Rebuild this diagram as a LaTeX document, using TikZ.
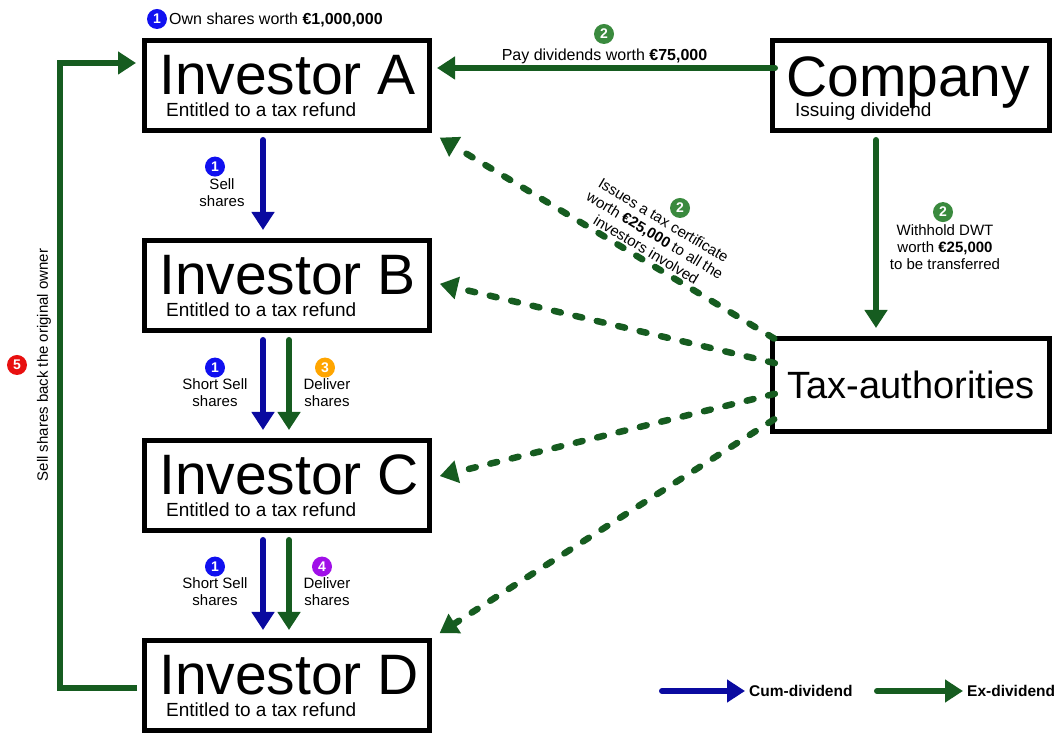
\documentclass[tikz,border=0pt]{standalone}
\usepackage{fontspec}
\setmainfont{Liberation Sans}
\usepackage{xcolor}
\usepackage{tikz}
\usetikzlibrary{positioning, arrows.meta, calc}
\definecolor{cumblue}{HTML}{0A0AA0}
\definecolor{exgreen}{HTML}{165C20}
\definecolor{bdgblue}{HTML}{1010F0}
\definecolor{bdggreen}{HTML}{3A8A3E}
\definecolor{bdgorange}{HTML}{FFA500}
\definecolor{bdgpurple}{HTML}{A010E8}
\definecolor{bdgred}{HTML}{E81010}

\begin{document}
\begin{tikzpicture}[
  x=1pt, y=1pt,
  party/.style={
    rectangle, draw=black, line width=5pt, fill=white,
    minimum width=285pt, minimum height=90pt, inner sep=0pt
  },
  bigname/.style={font=\fontsize{57}{60}\selectfont, inner sep=0pt, anchor=base west},
  subname/.style={font=\fontsize{19}{22}\selectfont, inner sep=0pt, anchor=base west},
  lbl/.style={font=\fontsize{15}{17}\selectfont, align=center, inner sep=0pt},
  toplbl/.style={font=\fontsize{16}{18}\selectfont, align=center, inner sep=0pt},
  badge/.style={
    circle, fill=#1, text=white, inner sep=0pt, minimum size=20pt,
    font=\fontsize{14}{14}\selectfont\bfseries
  },
  badge/.default=bdgblue,
  legend/.style={font=\fontsize{15.5}{17}\selectfont\bfseries, inner sep=0pt, anchor=west},
  cumarrow/.style={-{Triangle[length=18pt, width=22pt]}, line width=6pt, draw=cumblue, line cap=round},
  exarrow/.style={-{Triangle[length=18pt, width=22pt]}, line width=6pt, draw=exgreen, line cap=round},
  certarrow/.style={exarrow, line width=6.5pt, dash pattern=on 7pt off 15pt},
]
\useasboundingbox (0,0) rectangle (1057,733);

% --- Investors ---
\node[party] (invA) at (287,647.5) {};
\node[party, below=105pt of invA] (invB) {};
\node[party, below=105pt of invB] (invC) {};
\node[party, below=105pt of invC] (invD) {};

\node[bigname] (invAname) at (159,638) {Investor A};
\node[subname] (invAsub) at (166,616) {Entitled to a tax refund};
\node[bigname] (invBname) at (159,438) {Investor B};
\node[subname] (invBsub) at (166,416) {Entitled to a tax refund};
\node[bigname] (invCname) at (159,238) {Investor C};
\node[subname] (invCsub) at (166,216) {Entitled to a tax refund};
\node[bigname] (invDname) at (159,38) {Investor D};
\node[subname] (invDsub) at (166,16) {Entitled to a tax refund};

% --- Company and authorities ---
\node[party, minimum width=277pt] (company) at (911,647.5) {};
\node[bigname] (companyname) at (786,636) {Company};
\node[subname] (companysub) at (795,616) {Issuing dividend};
\node[party, minimum width=277pt, minimum height=93pt,
      font=\fontsize{38}{40}\selectfont] (tax) at (911,348) {Tax-authorities};

% --- Step 1 ---
\node[toplbl, anchor=base west] (ownlbl) at (169,708) {Own shares worth \textbf{€1,000,000}};
\node[badge] (ownbdg) at (157,714) {1};

\draw[cumarrow, shorten <=7pt, shorten >=8pt] ([xshift=-24pt]invA.south) -- ([xshift=-24pt]invB.north);
\node[lbl] (selllbl) at (222,540) {Sell\\shares};
\node[badge, above=2pt of selllbl.north -| ownbdg, xshift=58pt] (sellbdg) {1};

\draw[cumarrow, shorten <=7pt, shorten >=8pt] ([xshift=-24pt]invB.south) -- ([xshift=-24pt]invC.north);
\draw[exarrow, shorten <=7pt, shorten >=8pt] ([xshift=2pt]invB.south) -- ([xshift=2pt]invC.north);
\node[lbl] (shortBlbl) at (215,340) {Short Sell\\shares};
\node[badge, above=1pt of shortBlbl] (shortBbdg) {1};
\node[lbl] (delivBlbl) at (327,340) {Deliver\\shares};
\node[badge=bdgorange, above=1pt of delivBlbl, xshift=-2pt] (delivBbdg) {3};

\draw[cumarrow, shorten <=7pt, shorten >=8pt] ([xshift=-24pt]invC.south) -- ([xshift=-24pt]invD.north);
\draw[exarrow, shorten <=7pt, shorten >=8pt] ([xshift=2pt]invC.south) -- ([xshift=2pt]invD.north);
\node[lbl] (shortClbl) at (215,141) {Short Sell\\shares};
\node[badge, above=1pt of shortClbl] (shortCbdg) {1};
\node[lbl] (delivClbl) at (327,141) {Deliver\\shares};
\node[badge=bdgpurple, above=1pt of delivClbl, xshift=-5pt] (delivCbdg) {4};

% --- Step 2 ---
\draw[exarrow, shorten <=-5pt, shorten >=5pt] ([yshift=17.5pt]company.west) -- ([yshift=17.5pt]invA.east);
\node[toplbl] (paylbl) at (604.5,677) {Pay dividends worth \textbf{€75,000}};
\node[badge=bdggreen] (paybdg) at (604,699) {2};

\draw[exarrow, shorten <=7pt, shorten >=8pt] ([xshift=-35pt]company.south) -- ([xshift=-35pt]tax.north);
\node[lbl] (dwtlbl) at (945,486) {Withhold DWT\\worth \textbf{€25,000}\\to be transferred};
\node[badge=bdggreen, above=2pt of dwtlbl, xshift=-2pt] (dwtbdg) {2};

\draw[certarrow, shorten <=-5pt, shorten >=9pt] (tax.north west) -- (invA.south east);
\draw[certarrow, shorten <=-5pt, shorten >=8pt] ([yshift=23pt]tax.west) -- ([yshift=3.5pt]invB.east);
\draw[certarrow, shorten <=-5pt, shorten >=8pt] ([yshift=-10pt]tax.west) -- ([yshift=7.5pt]invC.east);
\draw[certarrow, shorten <=-5pt, shorten >=9pt] ([yshift=-37pt]tax.west) -- (invD.north east);
\node[lbl, rotate=-31] (certlbl) at (655,498)
  {Issues a tax certificate\\worth \textbf{€25,000} to all the\\investors involved};
\node[badge=bdggreen] (certbdg) at (680,525) {2};

% --- Step 5 ---
\coordinate (loopcorner) at (60,670);
\draw[exarrow, line cap=butt, shorten <=5pt, shorten >=6pt]
  ([yshift=-2.5pt]invD.west) -| (loopcorner) -- (invA.west |- loopcorner);
\node[lbl, rotate=90] (looplbl) at (44,368) {Sell shares back the original owner};
\node[badge=bdgred] (loopbdg) at (17,368) {5};

% --- Legend ---
\node[legend] (cumkey) at (749,42) {Cum-dividend};
\coordinate (cumfrom) at (662,42);
\draw[cumarrow, shorten >=4pt] (cumfrom) -- (cumkey.west);
\node[legend] (exkey) at (967,42) {Ex-dividend};
\coordinate (exfrom) at (877,42);
\draw[exarrow, shorten >=4pt] (exfrom) -- (exkey.west);

\end{tikzpicture}
\end{document}
